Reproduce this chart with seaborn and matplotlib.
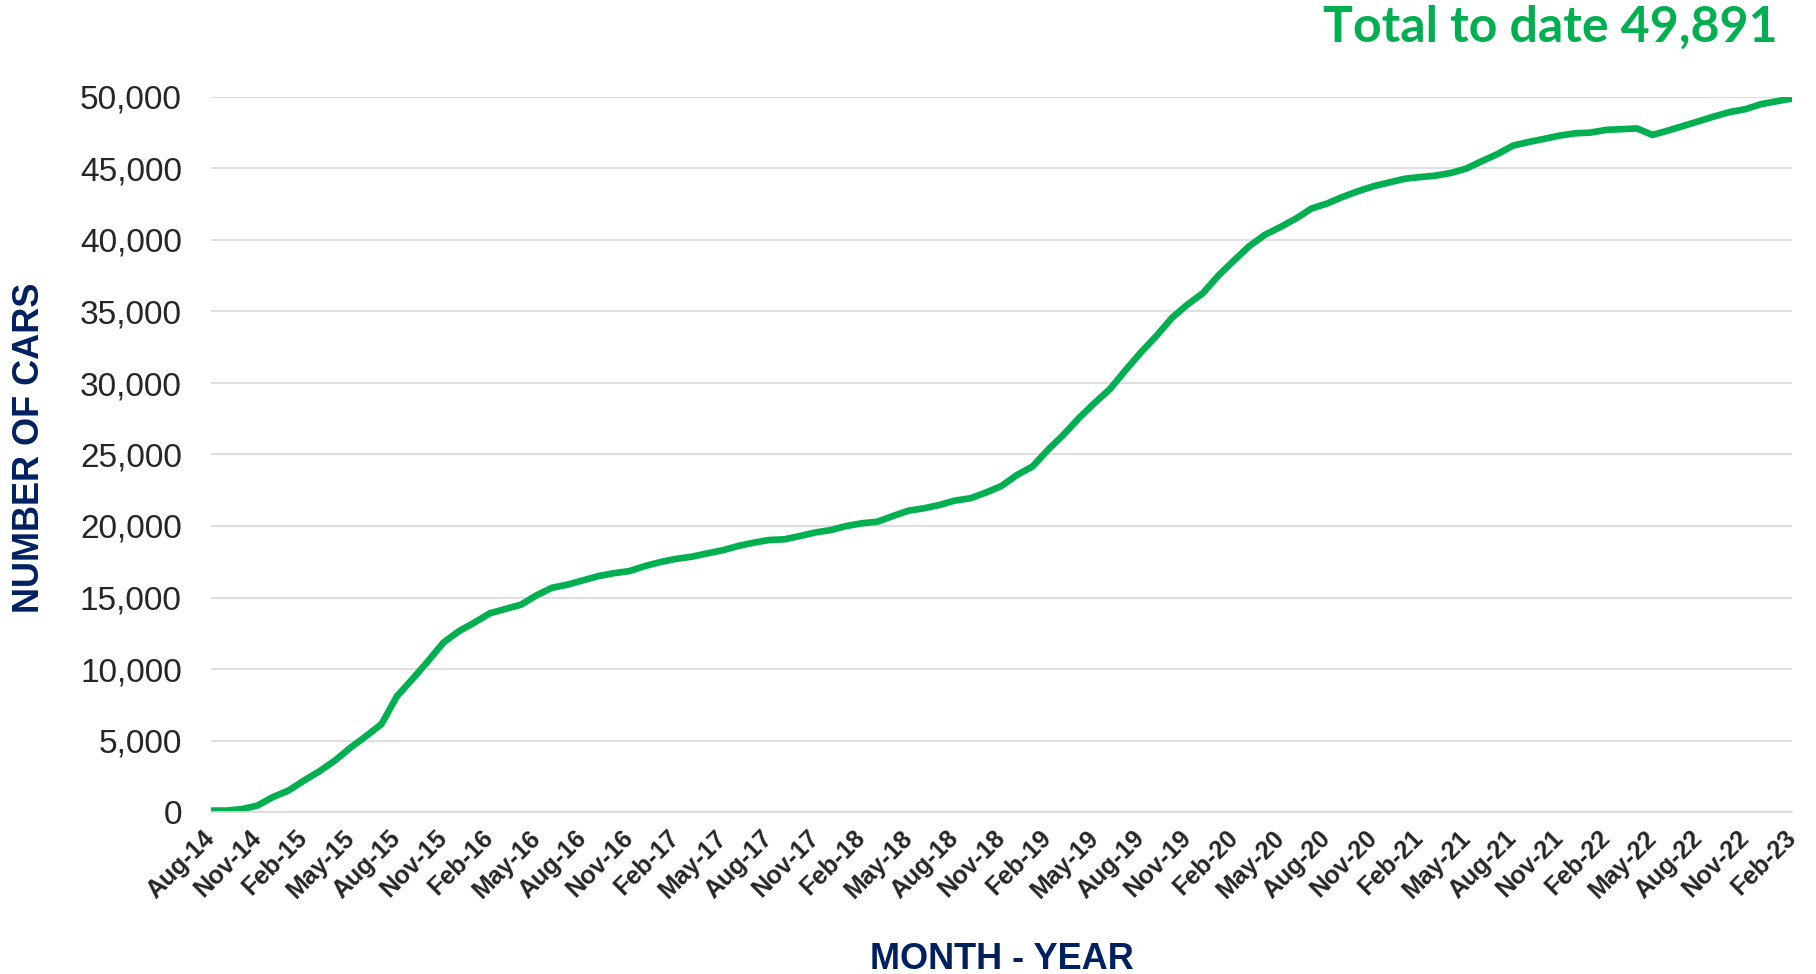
import pandas as pd
import matplotlib.pyplot as plt
import matplotlib.ticker as mticker
import seaborn as sns

# monthly cumulative number of cars, Aug-14 .. Feb-23
months = pd.date_range('2014-08-01', '2023-02-01', freq='MS')
cars = [100, 100, 200, 450, 1050, 1500, 2200, 2850, 3600, 4500,
        5300, 6150, 8100, 9300, 10550, 11850, 12650, 13250, 13900, 14200,
        14500, 15150, 15680, 15900, 16200, 16500, 16700, 16850, 17200, 17480,
        17700, 17850, 18080, 18300, 18600, 18830, 19020, 19070, 19300, 19550,
        19720, 20000, 20190, 20300, 20700, 21070, 21240, 21470, 21780, 21940,
        22340, 22800, 23570, 24160, 25330, 26380, 27550, 28600, 29580, 30890,
        32150, 33300, 34560, 35490, 36290, 37520, 38570, 39580, 40370, 40910,
        41500, 42200, 42550, 43010, 43410, 43760, 44020, 44280, 44400, 44500,
        44690, 45000, 45520, 46010, 46600, 46850, 47070, 47300, 47460, 47510,
        47700, 47750, 47800, 47350, 47650, 47980, 48310, 48650, 48950, 49150,
        49500, 49700, 49891]
month_labels = [m.strftime('%b-%y') for m in months]
title_text = 'Total to date 49,891'

data = pd.DataFrame({'idx': range(len(months)), 'cars': cars})

sns.set_theme(style='white')
plt.rcParams['font.family'] = ['Liberation Sans', 'DejaVu Sans']

green = '#00B050'
navy = '#002060'
grid = '#D9D9D9'

fig = plt.figure(figsize=(18.16, 9.74), dpi=100)
ax = fig.add_axes([211/1816, 1-812/974, 1581/1816, 715/974])

sns.lineplot(data=data, x='idx', y='cars', ax=ax, color=green, linewidth=4.8)

ax.set_xlim(0, len(months)-1)
ax.set_ylim(0, 50000)
ax.yaxis.set_major_locator(mticker.MultipleLocator(5000))
ax.yaxis.set_major_formatter(mticker.StrMethodFormatter('{x:,.0f}'))
ax.grid(axis='y', color=grid, linewidth=1.2)
ax.set_axisbelow(True)
for s in ['left', 'right', 'top']:
    ax.spines[s].set_visible(False)
ax.spines['bottom'].set_color(grid)
ax.spines['bottom'].set_linewidth(1.2)

ticks = list(range(0, len(months), 3))
ax.set_xticks(ticks)
ax.set_xticklabels([month_labels[t] for t in ticks], rotation=45, ha='right',
                   va='center', rotation_mode='anchor', fontsize=18, fontweight='bold')
ax.tick_params(axis='x', length=6, width=1.2, color=grid, pad=10)
ax.tick_params(axis='y', length=0, pad=21, labelsize=24)

ax.set_xlabel('MONTH - YEAR', fontsize=26, fontweight='bold', color=navy)
ax.set_ylabel('NUMBER OF CARS', fontsize=26, fontweight='bold', color=navy)
ax.xaxis.set_label_coords(0.5, -0.2056)
ax.xaxis.label.set_va('center')
ax.yaxis.set_label_coords(-0.115, 0.51)
ax.yaxis.label.set_va('center')

fig.text(1778/1816, 1-27/974, title_text, ha='right', va='center',
         fontsize=36, fontweight='bold', color=green, family=['Lato', 'DejaVu Sans'])

plt.savefig('out.png', dpi=100)
plt.close()
